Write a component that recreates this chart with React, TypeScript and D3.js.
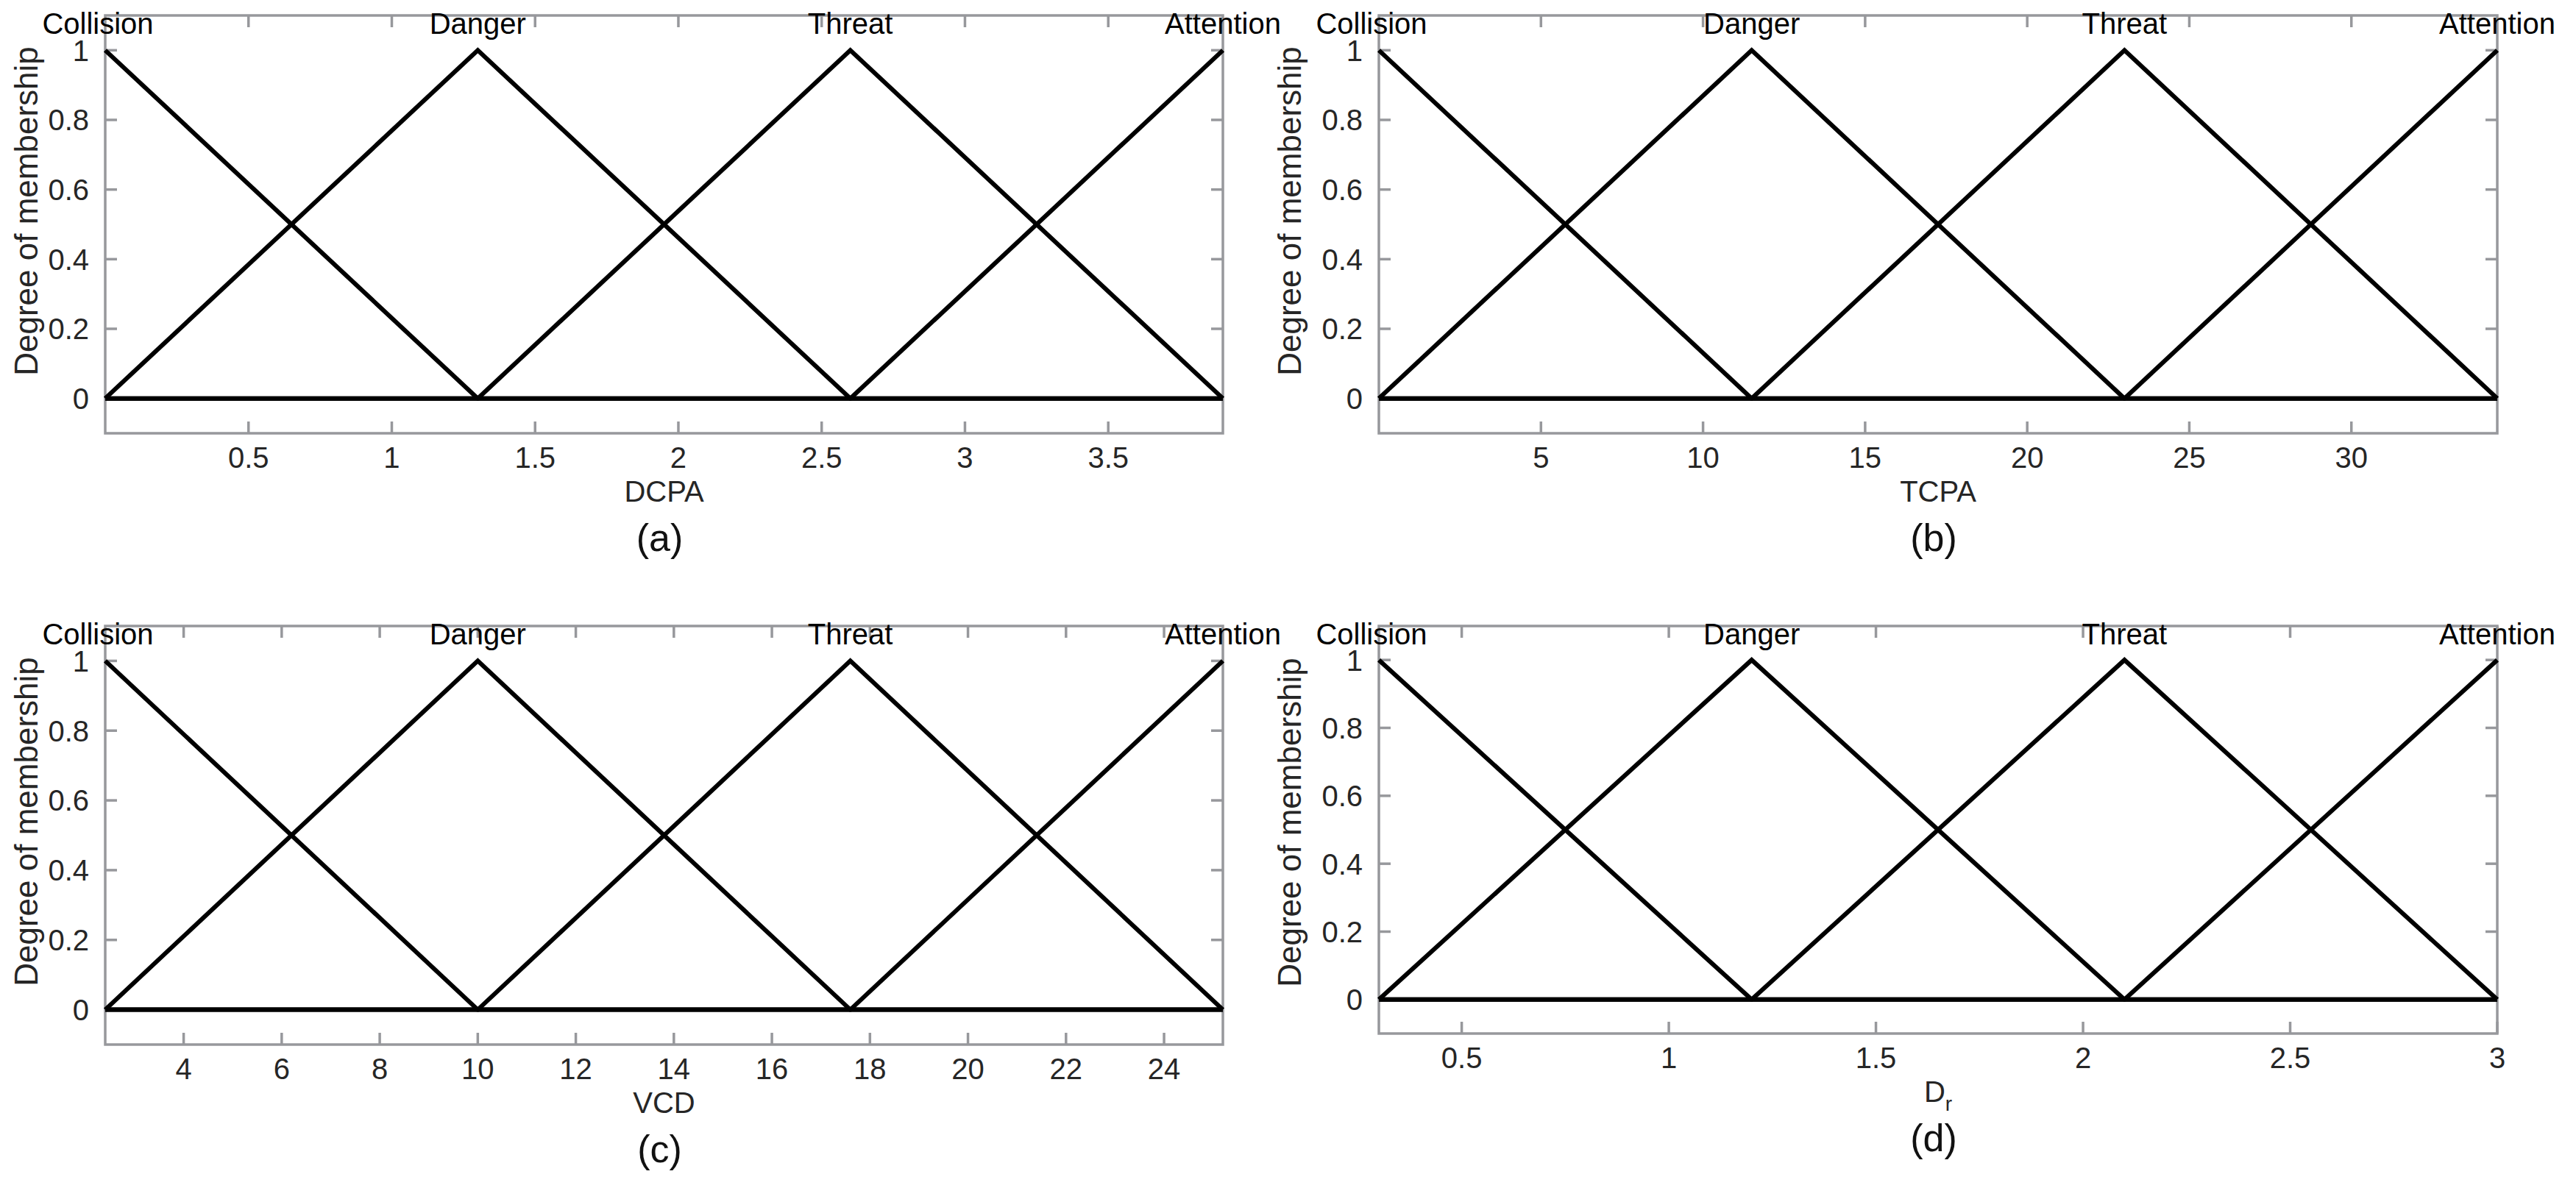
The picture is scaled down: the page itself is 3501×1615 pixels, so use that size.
import React from "react";
import * as d3 from "d3";

// ---------- data ----------
const termNames = ["Collision", "Danger", "Threat", "Attention"];

// membership breakpoints (x) per panel
const dcpaBreaks = [0, 1.3, 2.6, 3.9];
const tcpaBreaks = [0, 11.5, 23, 34.5];
const vcdBreaks = [2.4, 10, 17.6, 25.2];
const drBreaks = [0.3, 1.2, 2.1, 3.0];

// membership values at the four breakpoints for each term
const collisionMu = [1, 0, 0, 0];
const dangerMu = [0, 1, 0, 0];
const threatMu = [0, 0, 1, 0];
const attentionMu = [0, 0, 0, 1];

// tick values
const yTicks = [0, 0.2, 0.4, 0.6, 0.8, 1];
const dcpaTicks = [0.5, 1, 1.5, 2, 2.5, 3, 3.5];
const tcpaTicks = [5, 10, 15, 20, 25, 30];
const vcdTicks = [4, 6, 8, 10, 12, 14, 16, 18, 20, 22, 24];
const drTicks = [0.5, 1, 1.5, 2, 2.5, 3];

const xLabels = ["DCPA", "TCPA", "VCD", "D"];
const captions = ["(a)", "(b)", "(c)", "(d)"];

// ---------- layout ----------
const W = 3501;
const H = 1615;
const layout = [
  { left: 143, right: 1662, top: 21, bottom: 589, yLabX: 51, yLabY: 287 },
  { left: 1874, right: 3394, top: 21, bottom: 589, yLabX: 1768, yLabY: 287 },
  { left: 143, right: 1662, top: 851, bottom: 1420, yLabX: 51, yLabY: 1117 },
  { left: 1874, right: 3394, top: 851, bottom: 1405, yLabX: 1768, yLabY: 1118 },
];

const AXIS = "#97989c";
const TXT = "#262626";
const FONT = "'Liberation Sans', Arial, Helvetica, sans-serif";

const panels = [
  { breaks: dcpaBreaks, ticks: dcpaTicks },
  { breaks: tcpaBreaks, ticks: tcpaTicks },
  { breaks: vcdBreaks, ticks: vcdTicks },
  { breaks: drBreaks, ticks: drTicks },
];
const termMu = [collisionMu, dangerMu, threatMu, attentionMu];

function Panel({ idx }: { idx: number }) {
  const L = layout[idx];
  const P = panels[idx];
  const x = d3
    .scaleLinear()
    .domain([P.breaks[0], P.breaks[3]])
    .range([L.left, L.right]);
  const y = d3.scaleLinear().domain([-0.1, 1.1]).range([L.bottom, L.top]);
  const line = d3
    .line<[number, number]>()
    .x((d) => x(d[0]))
    .y((d) => y(d[1]));
  const tickLen = 16;
  const cx = (L.left + L.right) / 2;
  return (
    <g>
      {/* box */}
      <rect
        x={L.left}
        y={L.top}
        width={L.right - L.left}
        height={L.bottom - L.top}
        fill="none"
        stroke={AXIS}
        strokeWidth={3.5}
      />
      {/* x ticks top & bottom */}
      {P.ticks.map((t) => (
        <g key={"xt" + t}>
          <line x1={x(t)} x2={x(t)} y1={L.bottom} y2={L.bottom - tickLen} stroke={AXIS} strokeWidth={3.5} />
          <line x1={x(t)} x2={x(t)} y1={L.top} y2={L.top + tickLen} stroke={AXIS} strokeWidth={3.5} />
          <text
            x={x(t)}
            y={L.bottom + 47}
            textAnchor="middle"
            fontSize={40}
            fill={TXT}
            fontFamily={FONT}
          >
            {String(t)}
          </text>
        </g>
      ))}
      {/* y ticks left & right */}
      {yTicks.map((t) => (
        <g key={"yt" + t}>
          <line x1={L.left} x2={L.left + tickLen} y1={y(t)} y2={y(t)} stroke={AXIS} strokeWidth={3.5} />
          <line x1={L.right} x2={L.right - tickLen} y1={y(t)} y2={y(t)} stroke={AXIS} strokeWidth={3.5} />
          <text
            x={L.left - 22}
            y={y(t)}
            dy="0.36em"
            textAnchor="end"
            fontSize={40}
            fill={TXT}
            fontFamily={FONT}
          >
            {String(t)}
          </text>
        </g>
      ))}
      {/* membership lines */}
      {termMu.map((mu, k) => (
        <path
          key={"mf" + k}
          d={line(P.breaks.map((b, i) => [b, mu[i]] as [number, number])) || ""}
          fill="none"
          stroke="#000"
          strokeWidth={6}
          strokeLinejoin="miter"
        />
      ))}
      {/* term labels */}
      {termNames.map((n, k) => (
        <text
          key={"tn" + k}
          x={x(P.breaks[k]) - (k === 0 ? 10 : 0)}
          y={L.top + 25}
          textAnchor="middle"
          fontSize={40}
          fill="#000"
          fontFamily={FONT}
        >
          {n}
        </text>
      ))}
      {/* y label */}
      <text
        transform={`translate(${L.yLabX},${L.yLabY}) rotate(-90)`}
        textAnchor="middle"
        fontSize={44}
        fill={TXT}
        fontFamily={FONT}
      >
        Degree of membership
      </text>
      {/* x label */}
      <text
        x={cx}
        y={L.bottom + 93}
        textAnchor="middle"
        fontSize={40}
        fill={TXT}
        fontFamily={FONT}
      >
        {xLabels[idx]}
        {idx === 3 ? (
          <tspan fontSize={28} dy={12}>
            r
          </tspan>
        ) : null}
      </text>
      {/* caption */}
      <text
        x={cx - 6}
        y={L.bottom + 160}
        textAnchor="middle"
        fontSize={52}
        fill="#111"
        fontFamily={FONT}
      >
        {captions[idx]}
      </text>
    </g>
  );
}

export default function App() {
  return (
    <svg
      width={W}
      height={H}
      viewBox={`0 0 ${W} ${H}`}
      style={{ position: "absolute", left: 0, top: 0, background: "#fff" }}
    >
      <rect x={0} y={0} width={W} height={H} fill="#fff" />
      {[0, 1, 2, 3].map((i) => (
        <Panel key={i} idx={i} />
      ))}
    </svg>
  );
}
